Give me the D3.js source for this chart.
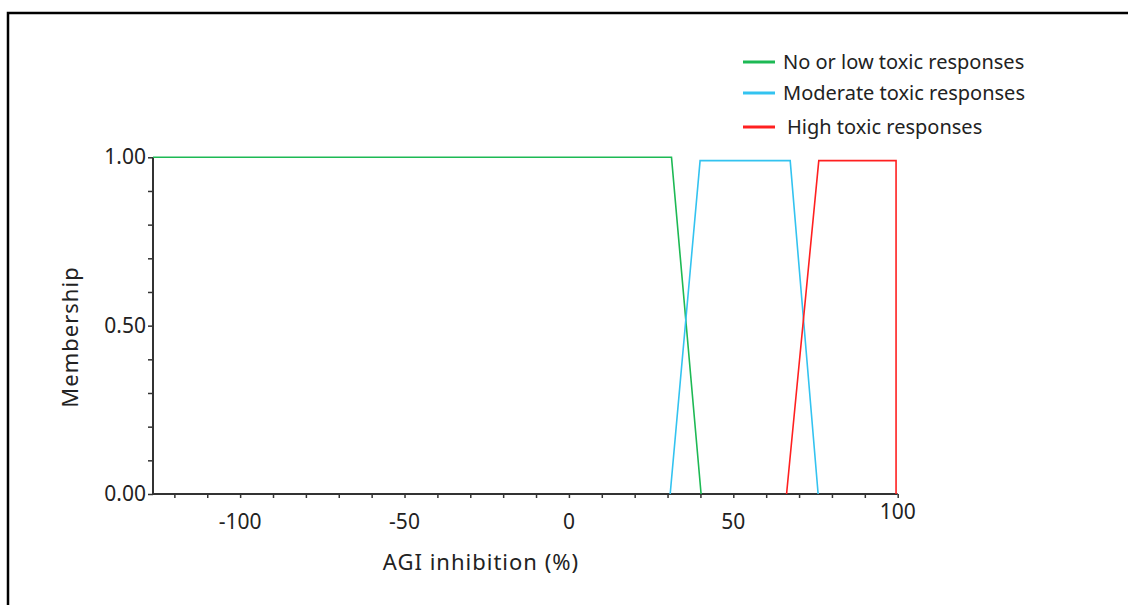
<!DOCTYPE html>
<html>
<head>
<meta charset="utf-8">
<script src="https://cdn.jsdelivr.net/npm/d3@7"></script>
<style>
  body { margin: 0; background: #fff; }
  text { font-family: "Noto Sans", sans-serif; fill: #222; }
</style>
</head>
<body>
<div id="canvas"></div>
<script>
// membership functions
const seriesNames = ["No or low toxic responses", "Moderate toxic responses", "High toxic responses"];
const seriesColors = ["#1db954", "#33c3f0", "#ff2020"];
const lowX = [-126.5, 31.2, 40.2];
const lowY = [1, 1, 0];
const modX = [30.8, 39.9, 67.3, 75.8];
const modY = [0, 0.99, 0.99, 0];
const highX = [66.2, 76, 99.5, 99.5];
const highY = [0, 0.99, 0.99, 0];

const xTickLabels = [-100, -50, 0, 50, 100];
const yTickLabels = [0, 0.5, 1];

const series = [
  { name: seriesNames[0], color: seriesColors[0], pts: lowX.map((x, i) => [x, lowY[i]]) },
  { name: seriesNames[1], color: seriesColors[1], pts: modX.map((x, i) => [x, modY[i]]) },
  { name: seriesNames[2], color: seriesColors[2], pts: highX.map((x, i) => [x, highY[i]]) }
];

const width = 1128, height = 605;
const svg = d3.select("#canvas").append("svg")
  .attr("width", width)
  .attr("height", height);

// frame
svg.append("path")
  .attr("d", "M8,605 V13 H1128")
  .attr("fill", "none")
  .attr("stroke", "#000")
  .attr("stroke-width", 2.5);

const x = d3.scaleLinear().domain([-126.5, 100]).range([153, 897.7]);
const y = d3.scaleLinear().domain([0, 1]).range([494, 157.3]);

// minor ticks (no default domain line)
const xAxisG = svg.append("g").attr("transform", `translate(0,${y(0)})`);
xAxisG.call(d3.axisBottom(x).tickValues(d3.range(-120, 101, 10)).tickSize(4).tickSizeOuter(0).tickFormat(""));
const yAxisG = svg.append("g").attr("transform", `translate(${x(-126.5)},0)`);
yAxisG.call(d3.axisLeft(y).tickValues(d3.range(0, 1.01, 0.1)).tickSize(5).tickSizeOuter(0).tickFormat(""));

[xAxisG, yAxisG].forEach(g => {
  g.select(".domain").remove();
  g.selectAll(".tick line").attr("stroke", "#333").attr("stroke-width", 1.5);
});

// axis lines
svg.append("line")
  .attr("x1", x(-126.5)).attr("x2", x(100))
  .attr("y1", y(0)).attr("y2", y(0))
  .attr("stroke", "#333").attr("stroke-width", 2);
svg.append("line")
  .attr("x1", x(-126.5)).attr("x2", x(-126.5))
  .attr("y1", y(0)).attr("y2", y(1))
  .attr("stroke", "#333").attr("stroke-width", 2);

// tick labels
svg.append("g").selectAll("text")
  .data(xTickLabels)
  .join("text")
  .attr("x", d => x(d))
  .attr("y", d => d === 100 ? 519 : 529)
  .attr("text-anchor", "middle")
  .attr("font-size", 21)
  .text(d => d);

svg.append("g").selectAll("text")
  .data(yTickLabels)
  .join("text")
  .attr("x", 146)
  .attr("y", d => y(d) + 7)
  .attr("text-anchor", "end")
  .attr("font-size", 21)
  .text(d => d3.format(".2f")(d));

// axis titles
svg.append("text")
  .attr("x", 481)
  .attr("y", 570)
  .attr("text-anchor", "middle")
  .attr("font-size", 22)
  .attr("letter-spacing", 1)
  .text("AGI inhibition (%)");

svg.append("text")
  .attr("transform", "translate(78,337) rotate(-90)")
  .attr("text-anchor", "middle")
  .attr("font-size", 22)
  .attr("letter-spacing", 1)
  .text("Membership");

// lines
const line = d3.line().x(d => x(d[0])).y(d => y(d[1]));
svg.append("g").selectAll("path")
  .data(series)
  .join("path")
  .attr("d", d => line(d.pts))
  .attr("fill", "none")
  .attr("stroke", d => d.color)
  .attr("stroke-width", 1.6);

// legend
const legendY = [62, 93, 127];
const legendTextX = [783, 783, 787];
const legend = svg.append("g");
series.forEach((s, i) => {
  legend.append("line")
    .attr("x1", 743).attr("x2", 775)
    .attr("y1", legendY[i]).attr("y2", legendY[i])
    .attr("stroke", s.color)
    .attr("stroke-width", 3);
  legend.append("text")
    .attr("x", legendTextX[i])
    .attr("y", legendY[i] + 7)
    .attr("font-size", 20)
    .text(s.name);
});
</script>
</body>
</html>
